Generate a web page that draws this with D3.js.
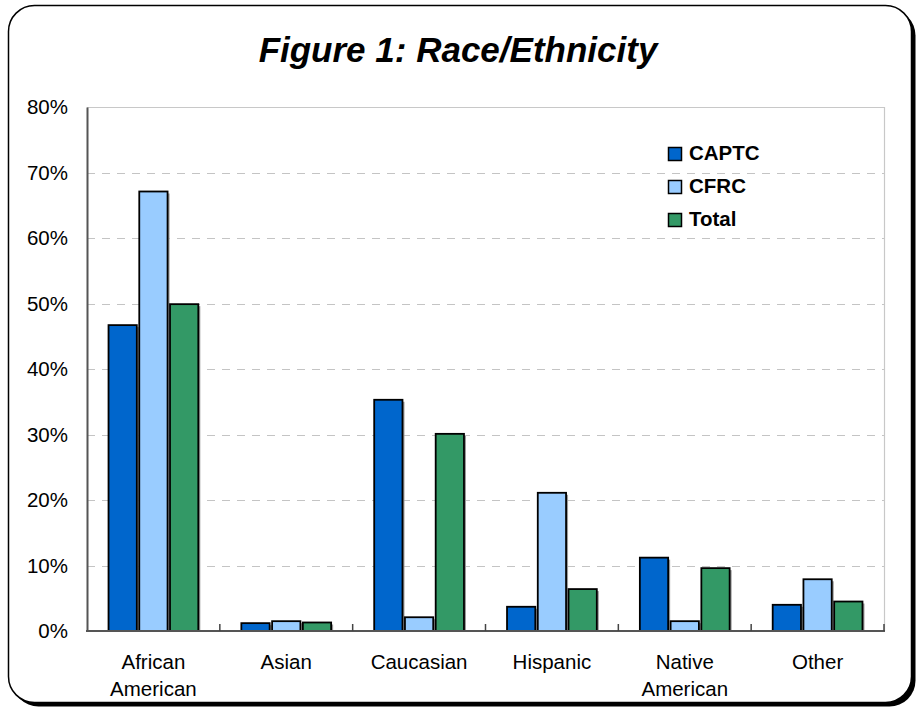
<!DOCTYPE html>
<html>
<head>
<meta charset="utf-8">
<script src="https://cdn.jsdelivr.net/npm/d3@7"></script>
<style>
  html, body { margin: 0; padding: 0; background: #fff; }
  svg { display: block; font-family: Arial, "Liberation Sans", Helvetica, sans-serif; }
</style>
</head>
<body>
<svg id="chart" width="917" height="708"></svg>
<script>
// Race/ethnicity shares by program
const categories = [["African", "American"], ["Asian"], ["Caucasian"], ["Hispanic"], ["Native", "American"], ["Other"]];
const seriesNames = ["CAPTC", "CFRC", "Total"];
const captc = [0.467, 0.012, 0.353, 0.037, 0.112, 0.040];
const cfrc  = [0.671, 0.015, 0.021, 0.211, 0.015, 0.079];
const total = [0.499, 0.013, 0.301, 0.064, 0.096, 0.045];
const yTicks = [0, 0.1, 0.2, 0.3, 0.4, 0.5, 0.6, 0.7, 0.8];
const colors = ["#0066CC", "#99CCFF", "#339966"];

const seriesValues = [captc, cfrc, total];
const svg = d3.select("#chart");

// Outer frame with a drop shadow to the lower right
svg.append("rect").attr("x", 12.5).attr("y", 9.5).attr("width", 903).attr("height", 697)
  .attr("rx", 26).attr("fill", "#000");
svg.append("rect").attr("x", 8.5).attr("y", 5.5).attr("width", 903).attr("height", 697)
  .attr("rx", 26).attr("fill", "#fff").attr("stroke", "#000").attr("stroke-width", 1.5);

svg.append("text").attr("x", 458).attr("y", 62).attr("text-anchor", "middle")
  .attr("font-size", 35).attr("font-weight", "bold").attr("font-style", "italic")
  .text("Figure 1: Race/Ethnicity");

const plot = { left: 87, right: 884, top: 107, bottom: 631 };

const x0 = d3.scaleBand().domain(d3.range(categories.length))
  .range([plot.left, plot.right]).padding(0);
const x1 = d3.scaleBand().domain(d3.range(seriesNames.length))
  .range([0, x0.bandwidth()]).paddingInner(0.08).paddingOuter(0.7);
const y = d3.scaleLinear().domain([0, 0.8]).range([plot.bottom, plot.top]);

// Gridlines
svg.append("g").selectAll("line").data(yTicks.filter(t => t > 0 && t < 0.8)).join("line")
  .attr("x1", plot.left).attr("x2", plot.right)
  .attr("y1", d => Math.round(y(d)) + 0.5).attr("y2", d => Math.round(y(d)) + 0.5)
  .attr("stroke", "#c4c4c4").attr("stroke-width", 1).attr("stroke-dasharray", "8,7");

// Plot area border (top and right)
svg.append("path")
  .attr("d", `M${plot.left},${Math.round(y(0.8)) + 0.5}H${plot.right + 0.5}V${plot.bottom}`)
  .attr("fill", "none").attr("stroke", "#c8c8c8").attr("stroke-width", 1.2);

// Bars with a soft grey shadow
const groups = svg.append("g").selectAll("g").data(categories).join("g")
  .attr("transform", (d, i) => `translate(${x0(i)},0)`);

groups.each(function (c, i) {
  const g = d3.select(this);
  seriesValues.forEach((vals, s) => {
    const v = vals[i];
    g.append("rect")
      .attr("x", x1(s) + 2).attr("y", y(v) + 2)
      .attr("width", x1.bandwidth()).attr("height", Math.max(0, y(0) - y(v) - 2))
      .attr("fill", "#9a9a9a");
  });
  seriesValues.forEach((vals, s) => {
    const v = vals[i];
    g.append("rect")
      .attr("x", x1(s)).attr("y", y(v))
      .attr("width", x1.bandwidth()).attr("height", y(0) - y(v))
      .attr("fill", colors[s]).attr("stroke", "#000").attr("stroke-width", 1.8);
  });
});

// Y axis
const yAxis = d3.axisLeft(y).tickValues(yTicks).tickFormat(d3.format(".0%")).tickSize(0).tickPadding(19);
const yg = svg.append("g").attr("transform", `translate(${plot.left},0)`).call(yAxis);
yg.select(".domain").attr("stroke", "#555").attr("stroke-width", 2);
yg.selectAll("text").attr("font-size", 20.5).attr("fill", "#000")
  .attr("font-family", "Arial, 'Liberation Sans', sans-serif");

// X axis: inward ticks at category boundaries
const boundaries = d3.range(categories.length + 1).map(i => plot.left + i * x0.bandwidth());
const xg = svg.append("g");
xg.append("line").attr("x1", plot.left - 1).attr("x2", plot.right + 1)
  .attr("y1", plot.bottom).attr("y2", plot.bottom).attr("stroke", "#555").attr("stroke-width", 2);
xg.selectAll("line.tick").data(boundaries.slice(1)).join("line").attr("class", "tick")
  .attr("x1", d => d).attr("x2", d => d)
  .attr("y1", plot.bottom - 7).attr("y2", plot.bottom)
  .attr("stroke", "#444").attr("stroke-width", 1.5);

const labels = xg.selectAll("text").data(categories).join("text")
  .attr("x", (d, i) => x0(i) + x0.bandwidth() / 2)
  .attr("y", 669).attr("text-anchor", "middle").attr("font-size", 20.5).attr("fill", "#000");
labels.each(function (lines) {
  const t = d3.select(this);
  lines.forEach((ln, k) => {
    t.append("tspan").attr("x", t.attr("x")).attr("dy", k === 0 ? 0 : 26.5).text(ln);
  });
});

// Legend
const legend = svg.append("g").attr("transform", "translate(668,147)");
seriesNames.forEach((name, s) => {
  const row = legend.append("g").attr("transform", `translate(0,${s * 33})`);
  row.append("rect").attr("x", 0.5).attr("y", 0.5).attr("width", 13).attr("height", 13)
    .attr("fill", colors[s]).attr("stroke", "#000").attr("stroke-width", 1.5);
  row.append("text").attr("x", 21).attr("y", 12.5).attr("font-size", 20.5)
    .attr("font-weight", "bold").attr("fill", "#000").text(name);
});
</script>
</body>
</html>
